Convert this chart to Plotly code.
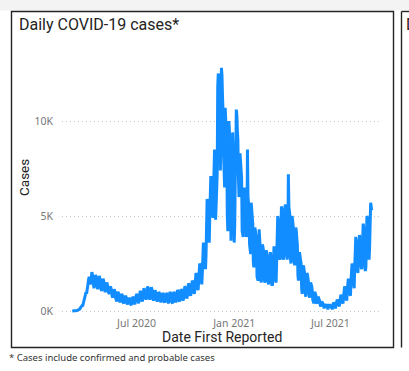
import pandas as pd
import plotly.graph_objects as go

# ---------------- data (daily cases) ----------------
start_date = "2020-03-02"
daily_cases = [
    0, 0, 0, 0, 10, 10, 10,
    10, 20, 30, 40, 50, 60, 60,
    100, 150, 200, 250, 300, 300, 300,
    450, 600, 750, 900, 1000, 1000, 900,
    1200, 1400, 1600, 1700, 1800, 1600, 1400,
    1500, 1900, 2050, 1900, 1800, 1400, 1200,
    1400, 1800, 1900, 1800, 1700, 1300, 1150,
    1300, 1750, 1850, 1700, 1600, 1200, 1050,
    1200, 1600, 1700, 1600, 1500, 1100, 1000,
    1100, 1400, 1500, 1400, 1300, 1000, 900,
    900, 1200, 1300, 1200, 1100, 800, 700,
    800, 1100, 1150, 1050, 1000, 650, 550,
    500, 900, 1000, 950, 900, 550, 450,
    600, 850, 900, 850, 800, 450, 400,
    500, 750, 800, 750, 700, 400, 350,
    450, 650, 700, 650, 600, 350, 300,
    450, 700, 750, 700, 650, 400, 350,
    550, 850, 900, 850, 600, 450, 400,
    600, 950, 1050, 1000, 900, 600, 500,
    700, 1100, 1200, 1100, 1000, 700, 600,
    750, 1200, 1300, 1200, 1100, 700, 600,
    700, 1150, 1250, 1150, 1050, 650, 550,
    650, 1050, 1100, 1000, 950, 600, 500,
    600, 950, 1000, 950, 900, 550, 450,
    550, 900, 950, 900, 850, 500, 450,
    550, 850, 950, 900, 800, 500, 400,
    550, 900, 1000, 950, 850, 500, 400,
    400, 850, 1000, 950, 900, 500, 450,
    600, 1000, 1100, 1050, 1000, 550, 500,
    650, 1050, 1150, 1100, 1000, 600, 550,
    750, 1200, 1300, 1250, 1150, 750, 650,
    850, 1350, 1450, 1400, 1300, 900, 800,
    1000, 1500, 1600, 1550, 1450, 1000, 900,
    1200, 1800, 2000, 1900, 1800, 1200, 1100,
    1500, 2300, 2500, 2400, 2300, 1600, 1400,
    2000, 3200, 3600, 3400, 3300, 2500, 2200,
    3000, 5000, 5900, 5600, 5300, 4000, 3600,
    5000, 6500, 7100, 6800, 6400, 5300, 4900,
    6200, 8200, 8500, 7800, 4800, 5600, 6400,
    7200, 11800, 12500, 12200, 11000, 8600, 7400,
    9500, 12800, 12400, 11300, 10500, 8200, 7000,
    6500, 10700, 10200, 9800, 9000, 5000, 4200,
    5500, 10000, 9500, 8000, 4000, 3700, 5000,
    5800, 9400, 8800, 7500, 3600, 4500, 7000,
    8000, 10600, 10300, 9500, 9000, 7000, 6000,
    6200, 8300, 8000, 7600, 7000, 4200, 3900,
    3900, 5500, 6500, 6200, 5800, 4200, 3900,
    4000, 8500, 6000, 5700, 5400, 3500, 3000,
    3000, 5700, 5300, 5000, 4600, 2600, 2300,
    2600, 4400, 4200, 3900, 3600, 1800, 1600,
    1600, 3600, 4300, 3800, 3400, 1700, 1500,
    2000, 3500, 3400, 3200, 3000, 1600, 1500,
    1800, 3200, 3100, 2900, 2800, 1500, 1400,
    1700, 3000, 3100, 2900, 2800, 1400, 1400,
    1900, 3300, 3400, 3200, 3100, 1600, 1500,
    2700, 4700, 5000, 4800, 4500, 2900, 2700,
    2800, 5200, 5500, 5400, 5100, 2900, 2700,
    3000, 5400, 5600, 5500, 5200, 3000, 2700,
    3200, 7200, 5500, 5300, 5000, 2800, 2500,
    3000, 5000, 4800, 4500, 4200, 2600, 2400,
    2600, 4400, 4200, 3800, 3500, 1900, 1600,
    1800, 3100, 2900, 2700, 2500, 1200, 900,
    1400, 2400, 2300, 2100, 1900, 900, 750,
    1300, 2000, 1900, 1700, 1500, 900, 700,
    1000, 1500, 1400, 1300, 1100, 600, 500,
    400, 900, 1000, 900, 800, 450, 400,
    500, 750, 700, 600, 550, 300, 250,
    350, 500, 450, 400, 350, 200, 200,
    250, 350, 350, 300, 300, 150, 150,
    250, 350, 350, 300, 250, 150, 150,
    150, 350, 450, 400, 350, 200, 200,
    350, 600, 600, 550, 500, 300, 250,
    500, 800, 850, 800, 750, 450, 400,
    750, 1200, 1300, 1200, 1100, 650, 550,
    1100, 1600, 1700, 1600, 1500, 900, 800,
    1600, 2400, 2500, 2400, 2200, 1400, 1200,
    2300, 3800, 3900, 3700, 3500, 2200, 2000,
    2600, 3900, 4000, 3800, 3700, 2400, 2200,
    3000, 4500, 4600, 4400, 4200, 2300, 2100,
    2300, 4800, 5000, 4900, 4700, 3000, 2700,
    3300, 5200, 5700, 5500, 5300,
]
dates = pd.date_range(start_date, periods=len(daily_cases), freq="D")

x_tick_vals = ["2020-07-01", "2021-01-01", "2021-07-01"]
x_tick_text = ["Jul 2020", "Jan 2021", "Jul 2021"]
y_tick_vals = [0, 5000, 10000]
y_tick_text = ["0K", "5K", "10K"]

title_text = "Daily COVID-19 cases*"
x_title = "Date First Reported"
y_title = "Cases"
footnote = "* Cases include confirmed and probable cases"

# ---------------- layout geometry ----------------
W_FIG, H_FIG = 409, 371
L, R, T, B = 62, 381, 55, 313
PW, PH = R - L, B - T


def px(v):
    return (v - L) / PW


def py(v):
    return (B - v) / PH


DARK = "#252423"
BLUE = "#118DFF"

fig = go.Figure()
fig.add_trace(go.Scatter(
    x=dates, y=daily_cases, mode="lines",
    line=dict(color=BLUE, width=3), hoverinfo="skip", showlegend=False,
))

fig.update_layout(
    width=W_FIG, height=H_FIG,
    margin=dict(l=L, r=W_FIG - R, t=T, b=H_FIG - B, pad=0),
    paper_bgcolor="white", plot_bgcolor="white",
    showlegend=False,
    xaxis=dict(
        type="date",
        range=["2020-02-11 17:00", "2021-10-04 12:00"],
        tickvals=x_tick_vals, ticktext=x_tick_text,
        showgrid=False, zeroline=False, showline=False, ticks="",
        tickfont=dict(family="Noto Sans, Open Sans, sans-serif", size=10.5, color="#777777"),
        ticklabelstandoff=2,
        fixedrange=True,
    ),
    yaxis=dict(
        range=[-105, 13474],
        tickvals=y_tick_vals, ticktext=y_tick_text,
        showgrid=True, gridcolor="#c8c8c8", gridwidth=1, griddash="1px,3px",
        zeroline=False, showline=False, ticks="",
        tickfont=dict(family="Noto Sans, Open Sans, sans-serif", size=10.5, color="#777777"),
        ticklabelstandoff=8,
        fixedrange=True,
    ),
    shapes=[
        dict(type="rect", xref="paper", yref="paper",
             x0=px(0), x1=px(409), y0=py(0), y1=py(10.5),
             fillcolor="#f3f3f3", line=dict(width=0), layer="below"),
        dict(type="rect", xref="paper", yref="paper",
             x0=px(11.5), x1=px(393.5), y0=py(11.5), y1=py(347.5),
             line=dict(color=DARK, width=1.4)),
        dict(type="line", xref="paper", yref="paper",
             x0=px(401.5), x1=px(401.5), y0=py(11.5), y1=py(347.5),
             line=dict(color=DARK, width=1.4)),
        dict(type="line", xref="paper", yref="paper",
             x0=px(401.5), x1=px(410), y0=py(11.5), y1=py(11.5),
             line=dict(color=DARK, width=1.4)),
    ],
    annotations=[
        dict(text=title_text, xref="paper", yref="paper", x=px(17), y=py(24),
             xanchor="left", yanchor="middle", showarrow=False,
             font=dict(family="Roboto, sans-serif", size=16, color=DARK)),
        dict(text="D", xref="paper", yref="paper", x=px(404), y=py(24),
             xanchor="left", yanchor="middle", showarrow=False,
             font=dict(family="Roboto, sans-serif", size=16, color=DARK)),
        dict(text=y_title, xref="paper", yref="paper", x=px(24), y=py(178),
             xanchor="center", yanchor="middle", textangle=-90, showarrow=False,
             font=dict(family="Roboto, sans-serif", size=13.5, color=DARK)),
        dict(text=x_title, xref="paper", yref="paper", x=px(221.5), y=py(337),
             xanchor="center", yanchor="middle", showarrow=False,
             font=dict(family="Roboto, sans-serif", size=14, color=DARK)),
        dict(text=footnote, xref="paper", yref="paper", x=px(7), y=py(357),
             xanchor="left", yanchor="middle", showarrow=False,
             font=dict(family="Noto Sans, Open Sans, sans-serif", size=9.5, color="#333333")),
    ],
)

fig.write_html(
    "out.html",
    config={"displayModeBar": False},
    post_script="document.body.style.margin='0';document.body.style.padding='0';",
)
